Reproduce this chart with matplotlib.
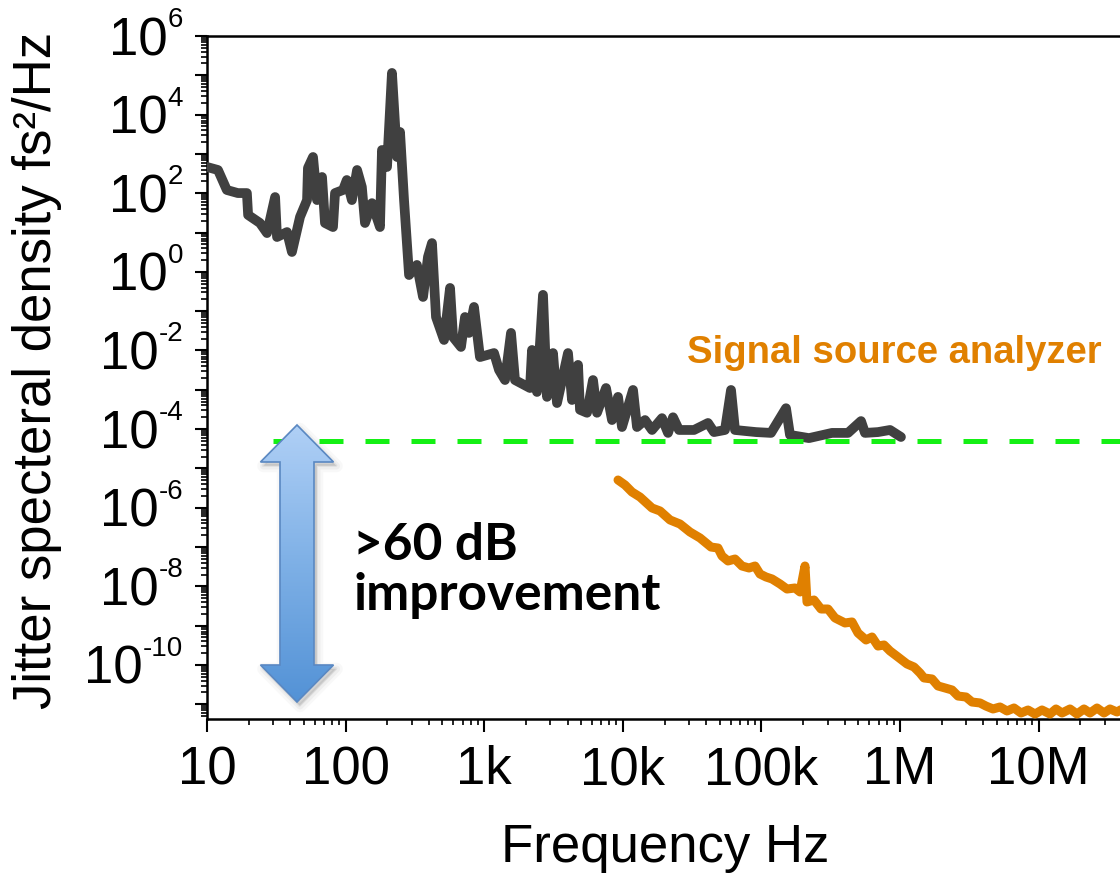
import numpy as np
import matplotlib
matplotlib.use("Agg")
import matplotlib.pyplot as plt
from matplotlib.ticker import LogLocator, NullFormatter
from matplotlib.patches import Polygon
from matplotlib.colors import LinearSegmentedColormap

# Timing-jitter spectral density from the optical measurement (fs^2/Hz)
jitter_freq = [10, 12.0, 13.9, 16.7, 19.4, 19.8, 24.1, 27.1, 31.0, 32.0,
               37.8, 41.0, 46.9, 52.7, 53.5, 58.2, 62.2, 67.6, 71.0, 81.1,
               83.9, 95.8, 102, 111, 121, 131, 138, 155, 177, 183,
               199, 216, 235, 247, 264, 287, 327, 362, 393, 420,
               449, 513, 567, 596, 680, 727, 777, 844, 932, 1177,
               1279, 1413, 1561, 1668, 2140, 2213, 2404, 2656, 2839, 3136,
               3352, 4024, 4300, 4752, 4911, 5518, 6095, 6514, 7566, 8358,
               9237, 9867, 11850, 12660, 14460, 16250, 19180, 21190, 23030, 25440,
               32640, 41180, 45500, 54610, 60370, 64500, 91420, 117300, 150500, 160800,
               220500, 323100, 421500, 523300, 558900, 693600, 847400, 1016000]
jitter_psd = [466, 390, 121, 101, 101, 28, 17.5, 9.7, 80, 7.7,
              10.3, 3.2, 25, 67, 439, 836, 67, 259, 17.5, 13.8,
              101, 121, 217, 67, 390, 144, 17.5, 56, 13.8, 1260,
              466, 1.15e5, 836, 3610, 67, 0.83, 1.5, 0.23, 2.4, 5.4,
              0.071, 0.0185, 0.39, 0.022, 0.0123, 0.071, 0.028, 0.128, 0.0068, 0.0086,
              0.0032, 0.00177, 0.028, 0.00177, 0.00111, 0.0103, 0.00088, 0.26, 0.00066, 0.0086,
              0.00046, 0.0086, 0.00055, 0.0043, 0.00031, 0.00026, 0.00177, 0.00026, 0.00111, 0.00017,
              0.00066, 0.000113, 0.00099, 0.000113, 0.00017, 9.5e-5, 0.00019, 8.0e-5, 0.0002, 9.5e-5,
              9.5e-5, 0.000143, 8.4e-5, 9.5e-5, 0.00099, 9.5e-5, 8.4e-5, 8.0e-5, 0.00034, 7.1e-5,
              5.9e-5, 8.0e-5, 8.0e-5, 0.00016, 8.0e-5, 8.4e-5, 9.5e-5, 6.3e-5]

# Signal source analyzer trace (fs^2/Hz)
ssa_freq = [9237, 10373, 11650, 13310, 16250, 18560, 21910, 25860, 30530, 36060,
            43290, 48630, 51960, 57420, 64500, 72440, 81410, 89930, 97700, 108000,
            119300, 136200, 153000, 174800, 190000, 206300, 213300, 239600, 269200, 302400,
            339600, 401000, 450600, 497800, 568400, 628100, 693800, 766700, 847000, 967400,
            1.123e6, 1.262e6, 1.394e6, 1.490e6, 1.702e6, 1.880e6, 2.112e6, 2.373e6, 2.622e6, 2.994e6,
            3.308e6, 3.777e6, 4.174e6, 4.688e6, 5.266e6, 5.916e6, 6.646e6, 7.464e6, 8.386e6, 9.419e6,
            1.058e7, 1.209e7, 1.335e7, 1.475e7, 1.685e7, 1.893e7, 2.126e7, 2.349e7, 2.639e7, 2.964e7,
            3.275e7, 3.679e7, 4.132e7]
ssa_psd = [5.07e-6, 3.79e-6, 2.51e-6, 1.87e-6, 9.84e-7, 8.26e-7, 4.88e-7, 3.85e-7, 2.41e-7, 1.70e-7,
           1.0e-7, 9.44e-8, 5.91e-8, 4.42e-8, 4.95e-8, 3.29e-8, 2.93e-8, 3.29e-8, 2.06e-8, 1.73e-8,
           1.54e-8, 1.15e-8, 8.55e-9, 9.08e-9, 7.18e-9, 3.29e-8, 4.0e-9, 4.49e-9, 2.65e-9, 2.65e-9,
           1.57e-9, 1.17e-9, 1.24e-9, 6.5e-10, 4.32e-10, 5.14e-10, 3.03e-10, 3.22e-10, 2.27e-10, 1.59e-10,
           1.06e-10, 8.87e-11, 6.24e-11, 4.67e-11, 4.40e-11, 2.92e-11, 2.6e-11, 2.31e-11, 1.62e-11, 1.53e-11,
           1.14e-11, 1.08e-11, 9.0e-12, 7.59e-12, 8.53e-12, 6.75e-12, 8.04e-12, 6.0e-12, 7.15e-12, 5.65e-12,
           7.15e-12, 5.65e-12, 7.59e-12, 6.0e-12, 7.59e-12, 5.65e-12, 7.59e-12, 6.0e-12, 8.04e-12, 6.0e-12,
           7.59e-12, 6.36e-12, 8.04e-12]

# Analyzer noise floor
floor_freq = [30, 4.2e7]
floor_psd = [5.0e-5, 5.0e-5]

x_tick_values = [10, 100, 1e3, 1e4, 1e5, 1e6, 1e7]
x_tick_labels = ["10", "100", "1k", "10k", "100k", "1M", "10M"]
y_label_exponents = [6, 4, 2, 0, -2, -4, -6, -8, -10]

DARK = "#404040"
ORANGE = "#E08000"
GREEN = "#14F014"
SANS = "Liberation Sans"

W, H = 1120, 877
fig = plt.figure(figsize=(W / 100, H / 100), dpi=100)
ax = fig.add_axes([207 / W, (H - 719) / H, 917 / W, 683 / H])

ax.set_xscale("log")
ax.set_yscale("log")

ax.plot(jitter_freq, jitter_psd, color=DARK, lw=7, solid_joinstyle="round",
        solid_capstyle="round", zorder=3)
ax.plot(ssa_freq, ssa_psd, color=ORANGE, lw=6.5, solid_joinstyle="round",
        solid_capstyle="round", zorder=3)
ax.plot(floor_freq, floor_psd, color=GREEN, lw=3.6, dashes=(4.8, 4.4), zorder=4)

ax.set_xlim(10, 10 ** (1 + 917 / 138.6))
ax.set_ylim(10 ** (6 - 683 / 39.31), 1e6)

for side in ("left", "bottom", "top"):
    ax.spines[side].set_linewidth(1.8)
ax.spines["right"].set_visible(False)

ax.set_xticks(x_tick_values, x_tick_labels)
ax.xaxis.set_minor_locator(LogLocator(base=10, subs=np.arange(2, 10), numticks=50))
ax.yaxis.set_major_locator(LogLocator(base=10, numticks=50))
ax.yaxis.set_minor_locator(LogLocator(base=10, subs=np.arange(2, 10), numticks=50))
ax.yaxis.set_major_formatter(NullFormatter())
ax.yaxis.set_minor_formatter(NullFormatter())
ax.xaxis.set_minor_formatter(NullFormatter())

ax.tick_params(which="major", direction="out", length=9, width=1.5, pad=10,
               labelsize=38, top=False, right=False)
ax.tick_params(which="minor", direction="out", length=4.5, width=1.2,
               top=False, right=False)
for lab in ax.get_xticklabels():
    lab.set_family(SANS)

# Power-of-ten labels on the y axis, with a small raised exponent
for e in y_label_exponents:
    exp_txt = ax.annotate(f"{e}", xy=(0, 10.0 ** e), xycoords=("axes fraction", "data"),
                          xytext=(-24, 9), textcoords="offset pixels",
                          ha="right", va="baseline", fontsize=20, family=SANS,
                          annotation_clip=False)
    ax.annotate("10", xy=(0, 10.0 ** e), xycoords=(exp_txt, "data"),
                xytext=(0, -19), textcoords="offset pixels",
                ha="right", va="baseline", fontsize=38, family=SANS,
                annotation_clip=False)

ax.set_xlabel("Frequency Hz", fontsize=38, family=SANS, labelpad=20)
ax.set_ylabel("Jitter specteral density fs\u00b2/Hz", fontsize=38, family=SANS)
ax.yaxis.set_label_coords(-0.158, 0.51)

# Overlay in figure pixels for the annotations
ov = fig.add_axes([0, 0, 1, 1], zorder=5)
ov.set_xlim(0, W)
ov.set_ylim(H, 0)
ov.set_axis_off()
ov.patch.set_alpha(0)

cx, tip_top, base_top, base_bot, tip_bot = 297, 425, 462, 665, 702
head_half, shaft_half = 36.5, 17
arrow_pts = np.array([
    (cx, tip_top), (cx + head_half, base_top), (cx + shaft_half, base_top),
    (cx + shaft_half, base_bot), (cx + head_half, base_bot), (cx, tip_bot),
    (cx - head_half, base_bot), (cx - shaft_half, base_bot), (cx - shaft_half, base_top),
    (cx - head_half, base_top)])

for (dx, dy, lw, a) in [(3, 4, 9, 0.04), (3, 4, 5, 0.06), (2.5, 3.5, 2, 0.09)]:
    ov.add_patch(Polygon(arrow_pts + [dx, dy], closed=True, fc="#555555",
                         ec="#555555", lw=lw, alpha=a, joinstyle="round"))

arrow = Polygon(arrow_pts, closed=True, fc="none", ec="#5A88C2", lw=1.2, zorder=6)
ov.add_patch(arrow)
blue_grad = LinearSegmentedColormap.from_list("blue_grad", ["#B0D0F6", "#7EB0E6", "#5392D6"])
img = ov.imshow(np.linspace(0, 1, 256).reshape(-1, 1), cmap=blue_grad, aspect="auto",
                extent=[cx - head_half, cx + head_half, tip_bot, tip_top],
                origin="upper", zorder=5)
img.set_clip_path(arrow)
ov.set_xlim(0, W)
ov.set_ylim(H, 0)

ov.text(353, 560, ">60 dB", fontsize=37, fontweight="bold", family="Lato",
        color="black", ha="left", va="baseline")
ov.text(353, 610, "improvement", fontsize=37, fontweight="bold", family="Lato",
        color="black", ha="left", va="baseline")
ov.text(687, 363, "Signal source analyzer", fontsize=27.5, fontweight="bold",
        family=SANS, color=ORANGE, ha="left", va="baseline")

fig.savefig("out.png", dpi=100)
